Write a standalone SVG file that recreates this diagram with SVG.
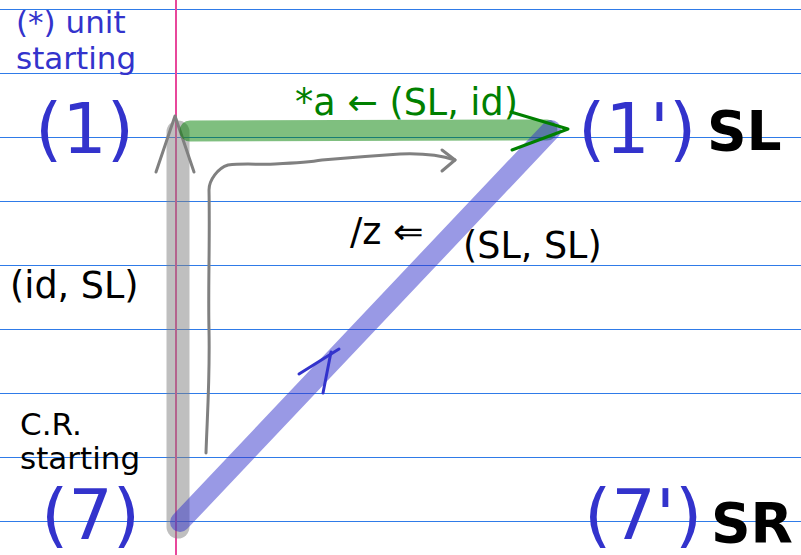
<svg xmlns="http://www.w3.org/2000/svg" width="801" height="555" viewBox="0 0 801 555">
<style>
.t{font-family:"DejaVu Sans",sans-serif}
.blue{fill:#3333cc}
.big{font-size:70px}
.bold{font-weight:bold;font-size:55px;fill:#000}
.mid{font-size:36.5px}
.small{font-size:31px}
</style>
<rect width="801" height="555" fill="#fff"/>
<g id="rules" stroke="#2f7be8" stroke-width="1.3" shape-rendering="crispEdges">
<line x1="0" y1="9.5" x2="801" y2="9.5"/>
<line x1="0" y1="73.5" x2="801" y2="73.5"/>
<line x1="0" y1="137.5" x2="801" y2="137.5"/>
<line x1="0" y1="201.5" x2="801" y2="201.5"/>
<line x1="0" y1="265.5" x2="801" y2="265.5"/>
<line x1="0" y1="329.5" x2="801" y2="329.5"/>
<line x1="0" y1="393.5" x2="801" y2="393.5"/>
<line x1="0" y1="457.5" x2="801" y2="457.5"/>
<line x1="0" y1="521.5" x2="801" y2="521.5"/>
<line x1="176" y1="0" x2="176" y2="555" stroke="#e8479b" stroke-width="1.5"/>
</g>
<g id="connectors" fill="none" stroke-linecap="round" stroke-linejoin="round">
<line x1="178" y1="132" x2="178" y2="527" stroke="#808080" stroke-opacity="0.5" stroke-width="23"/>
<polyline points="156,172 175,116 194,172" stroke="#808080" stroke-width="3"/>
<line x1="190" y1="131" x2="547" y2="130" stroke="#008000" stroke-opacity="0.5" stroke-width="21"/>
<line x1="180" y1="522" x2="551" y2="130" stroke="#3333cc" stroke-opacity="0.5" stroke-width="20"/>
<polyline points="511,112 568,129 512,150" stroke="#008000" stroke-width="3"/>
<polyline points="299,374 339,349" stroke="#3333cc" stroke-width="3"/>
<polyline points="331,352 323,393" stroke="#3333cc" stroke-width="3"/>
<path d="M206,453 C207,420 210,380 209,330 C208,290 210,240 209,190 C209,180 218,168 228,165 C245,163 260,165 275,164 C295,163 310,162 322,160 C345,158 370,156 400,154 C425,153 440,155 455,160" stroke="#808080" stroke-width="3"/>
<polyline points="442,150 455,160 442,171" stroke="#808080" stroke-width="3"/>
</g>
<g id="node-unit-note"><text class="t small blue" x="16" y="33">(*) unit</text><text class="t small blue" x="16" y="69">starting</text></g>
<g id="node-1"><text class="t big blue" x="35" y="153">(1)</text></g>
<g id="node-1p"><text class="t big blue" x="578" y="153">(1')</text><text class="t bold" x="707" y="150">SL</text></g>
<g id="node-7"><text class="t big blue" x="41" y="539">(7)</text></g>
<g id="node-7p"><text class="t big blue" x="584" y="539">(7')</text><text class="t bold" x="711" y="542">SR</text></g>
<g id="label-a"><text class="t mid" fill="#008000" x="295" y="115">*a ← (SL, id)</text></g>
<g id="label-z"><text class="t mid" fill="#000" x="350" y="244">/z ⇐</text><text class="t mid" fill="#000" x="463" y="258">(SL, SL)</text></g>
<g id="label-idsl"><text class="t mid" fill="#000" x="10" y="298">(id, SL)</text></g>
<g id="node-cr"><text class="t small" fill="#000" x="20" y="435">C.R.</text><text class="t small" fill="#000" x="20" y="469">starting</text></g>
</svg>
